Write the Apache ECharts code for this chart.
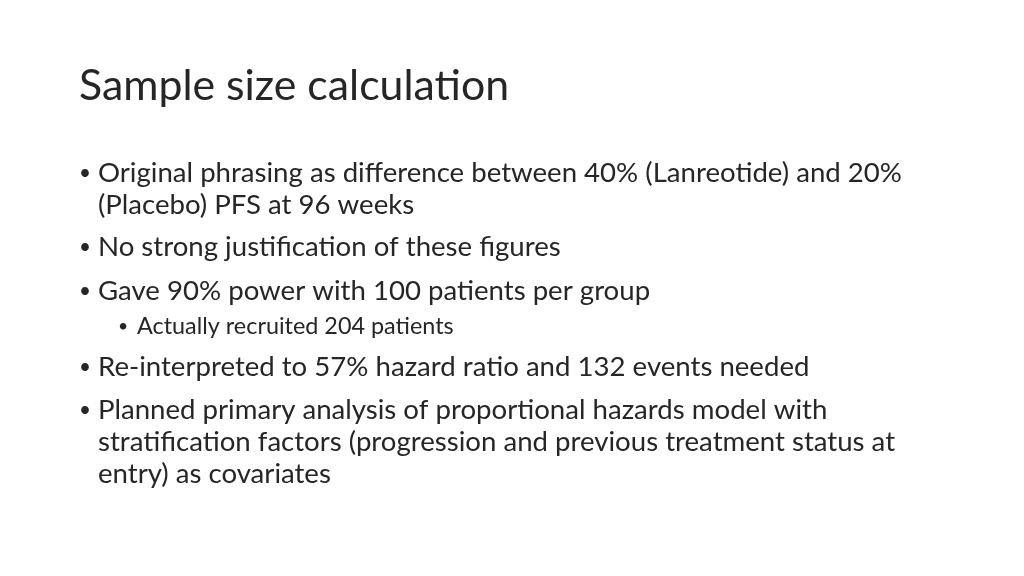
<!DOCTYPE html>
<html><head><meta charset="utf-8">
<script src="https://cdn.jsdelivr.net/npm/echarts@6/dist/echarts.min.js"></script>
<style>html,body{margin:0;padding:0;background:#fff}#c{width:1024px;height:576px}</style>
</head><body><div id="c"></div>
<script>
const title = "Sample size calculation";
const bulletTexts = [
  ["Original phrasing as difference between 40% (Lanreotide) and 20%", "(Placebo) PFS at 96 weeks"],
  ["No strong justification of these figures"],
  ["Gave 90% power with 100 patients per group"],
  ["Actually recruited 204 patients"],
  ["Re-interpreted to 57% hazard ratio and 132 events needed"],
  ["Planned primary analysis of proportional hazards model with", "stratification factors (progression and previous treatment status at", "entry) as covariates"]
];
const bulletLevels = [1, 1, 1, 2, 1, 1];
const bulletY = [173, 247, 291, 326, 367, 410];

const font = "Lato, 'Open Sans', sans-serif";
const color = "#262626";
const els = [{type:'text', x:79, y:86, style:{text:title, font:"42.8px "+font, fill:color, verticalAlign:'middle'}}];
bulletTexts.forEach((lines, i) => {
  const lvl = bulletLevels[i];
  const size = lvl === 1 ? 27.6 : 23.4;
  const bx = lvl === 1 ? 79 : 118;
  const tx = lvl === 1 ? 98 : 137;
  lines.forEach((t, j) => {
    const y = bulletY[i] + j * 32;
    if (j === 0) els.push({type:'text', x:bx, y:y, style:{text:"•", font:(size*0.75)+"px "+font, fill:color, verticalAlign:'middle'}});
    els.push({type:'text', x:tx, y:y, style:{text:t, font:size+"px "+font, fill:color, verticalAlign:'middle'}});
  });
});
const chart = echarts.init(document.getElementById('c'));
chart.setOption({animation:false, graphic:{elements:els}});
</script></body></html>
